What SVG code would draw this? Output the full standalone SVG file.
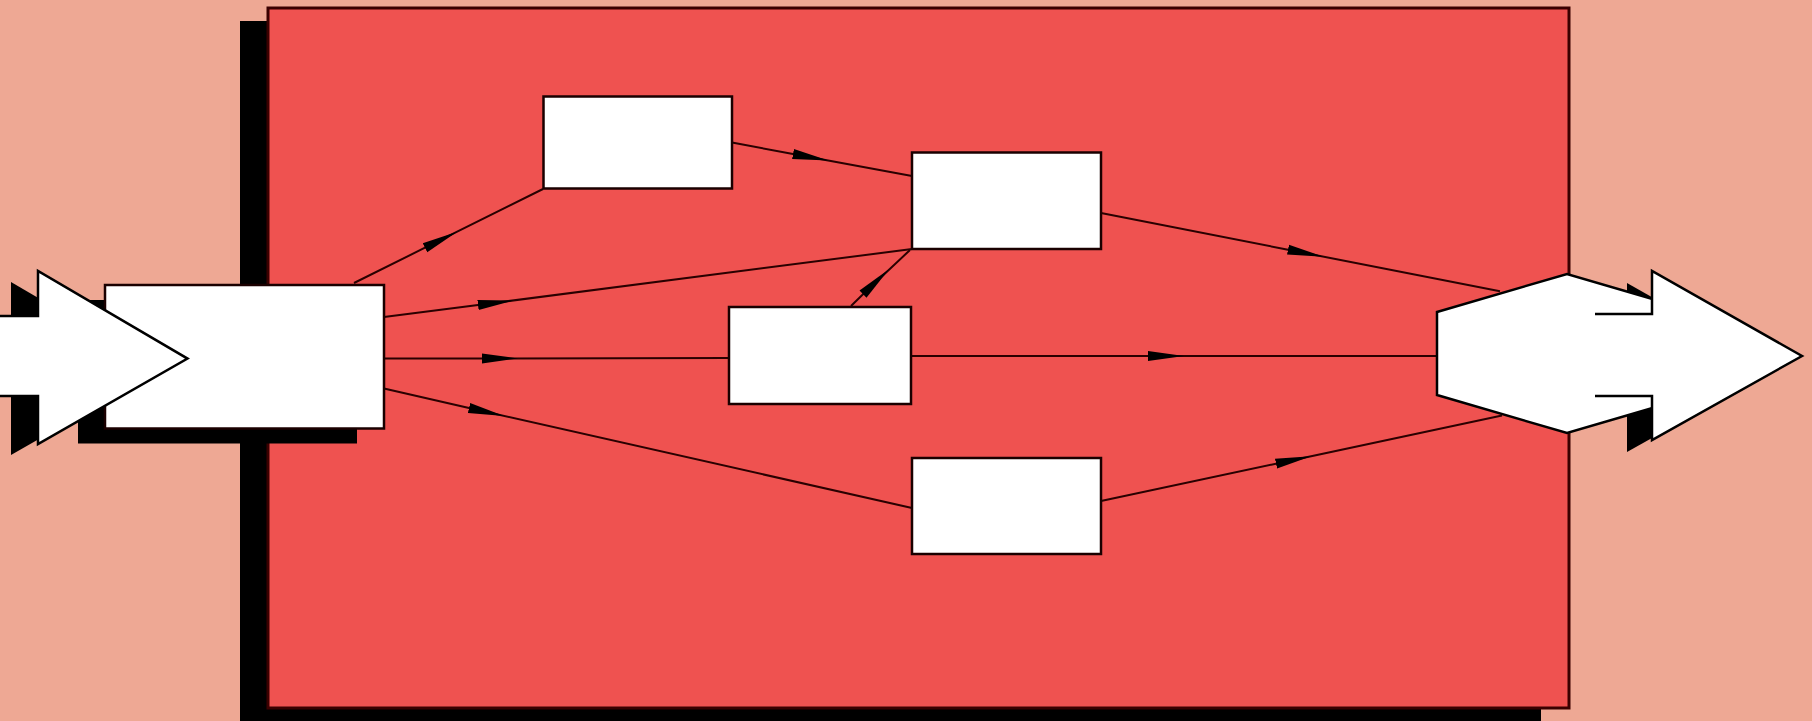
<svg xmlns="http://www.w3.org/2000/svg" width="1812" height="721" viewBox="0 0 1812 721">
  <style>
    .box { fill: #ffffff; stroke: #1a0000; stroke-width: 2.5; }
    .shadow { fill: #000000; }
    .conn { fill: none; stroke: #2a0000; stroke-width: 2; marker-mid: url(#head); }
    .big { fill: #ffffff; stroke: #000000; stroke-width: 2.5; stroke-linejoin: miter; }
  </style>
  <defs>
    <marker id="head" markerUnits="userSpaceOnUse" markerWidth="38" markerHeight="12" viewBox="0 0 38 12" refX="0" refY="6" orient="auto">
      <path d="M0,1 L36,6 L0,11 z" fill="#000000"/>
    </marker>
  </defs>

  <rect x="0" y="0" width="1812" height="721" fill="#EEA894"/>

  <g id="frame">
    <rect class="shadow" x="240" y="21" width="1301" height="700"/>
    <rect x="268" y="8" width="1301" height="700" fill="#EF5250" stroke="#3a0000" stroke-width="3"/>
  </g>

  <g id="connectors">
    <path class="conn" d="M354,283 L425,247.7 L543,189"/>
    <path class="conn" d="M384,317 L478,305 L912,249"/>
    <path class="conn" d="M384,358.5 L482,358.5 L729,358"/>
    <path class="conn" d="M384,388.5 L469,408 L912,508"/>
    <path class="conn" d="M732,142.5 L793,154 L912,176"/>
    <path class="conn" d="M851,306 L863,294.2 L910,250"/>
    <path class="conn" d="M911,356 L1148,356 L1440,356"/>
    <path class="conn" d="M1101,213 L1288,249.7 L1500,291.3"/>
    <path class="conn" d="M1101,501 L1276,463.7 L1502,415.6"/>
  </g>

  <g id="input">
    <polygon class="shadow" points="11,282 160.5,369.6 11,455"/>
    <rect class="shadow" x="78" y="300" width="279" height="143.5"/>
    <rect class="box" x="105" y="285" width="279" height="143.5"/>
    <polygon class="big" points="-5,316 38,316 38,271 187.5,358.6 38,444 38,396 -5,396"/>
  </g>

  <g id="nodeB"><rect class="box" x="543.5" y="96.5" width="188.5" height="92"/></g>
  <g id="nodeC"><rect class="box" x="912" y="152.5" width="189" height="96.5"/></g>
  <g id="nodeD"><rect class="box" x="729" y="307" width="182" height="97"/></g>
  <g id="nodeE"><rect class="box" x="912" y="458" width="189" height="96"/></g>

  <g id="output">
    <polygon class="shadow" points="1627,283 1777,368 1627,452"/>
    <polygon class="big" points="1437,312 1567,274 1697,312 1697,395 1567,433 1437,395"/>
    <polygon fill="#ffffff" points="1595,314 1652,314 1652,271 1802,356 1652,440 1652,396 1595,396"/>
    <path d="M1595,314 L1652,314 L1652,271 L1802,356 L1652,440 L1652,396 L1595,396" fill="none" stroke="#000000" stroke-width="2.5"/>
  </g>
</svg>
